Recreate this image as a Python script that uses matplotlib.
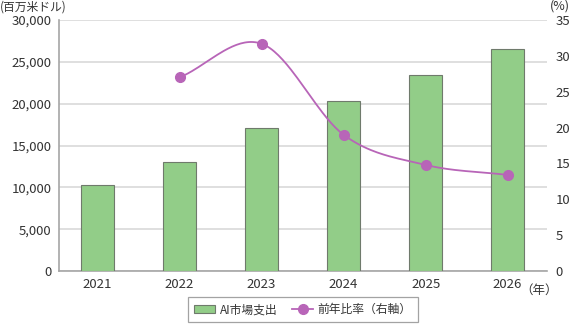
import numpy as np
import matplotlib
matplotlib.use("Agg")
import matplotlib.pyplot as plt
from matplotlib.lines import Line2D
from matplotlib.patches import Patch

plt.rcParams['font.family'] = ['Noto Sans CJK JP', 'DejaVu Sans']

years = ['2021', '2022', '2023', '2024', '2025', '2026']
spending = [10240, 13030, 17100, 20360, 23450, 26600]   # 百万米ドル
growth = [np.nan, 27.0, 31.7, 19.0, 14.8, 13.4]         # %

bar_label = 'AI市場支出'
line_label = '前年比率（右軸）'

bar_color = '#92cd88'
bar_edge = '#6f7a6c'
line_color = '#b865b8'
grid_color = '#d9d9d9'
spine_color = '#a6a6a6'
text_color = '#333333'


def catmull_rom(xs, ys, n=40):
    xs = np.asarray(xs, float)
    ys = np.asarray(ys, float)
    px = np.concatenate([[2 * xs[0] - xs[1]], xs, [2 * xs[-1] - xs[-2]]])
    py = np.concatenate([[2 * ys[0] - ys[1]], ys, [2 * ys[-1] - ys[-2]]])
    out_x, out_y = [], []
    t = np.linspace(0, 1, n)
    for i in range(1, len(px) - 2):
        p0, p1, p2, p3 = (np.array([px[j], py[j]]) for j in (i - 1, i, i + 1, i + 2))
        c1 = p1 + (p2 - p0) / 6
        c2 = p2 - (p3 - p1) / 6
        b = (np.outer((1 - t) ** 3, p1) + np.outer(3 * (1 - t) ** 2 * t, c1)
             + np.outer(3 * (1 - t) * t ** 2, c2) + np.outer(t ** 3, p2))
        out_x.extend(b[:, 0])
        out_y.extend(b[:, 1])
    return np.array(out_x), np.array(out_y)


fig = plt.figure(figsize=(5.72, 3.29), dpi=100)
ax = fig.add_axes([0.1023, 0.1763, 0.854, 0.7627])
x = np.arange(len(years))

ax.bar(x, spending, width=0.40, color=bar_color, edgecolor=bar_edge,
       linewidth=0.8, zorder=3)
ax.set_ylim(0, 30000)
ax.set_yticks(np.arange(0, 30001, 5000))
ax.set_yticklabels([f'{v:,}' for v in range(0, 30001, 5000)])
ax.set_xlim(-0.476, 5.48)
ax.set_xticks(x)
ax.set_xticklabels(years)
ax.grid(axis='y', color=grid_color, linewidth=1.2, zorder=0)
ax.set_axisbelow(True)

for s in ['top', 'right']:
    ax.spines[s].set_visible(False)
for s in ['left', 'bottom']:
    ax.spines[s].set_color(spine_color)
    ax.spines[s].set_linewidth(1.2)
ax.tick_params(length=0, labelsize=9.5, colors=text_color, pad=5)

ax2 = ax.twinx()
ax2.set_ylim(0, 35)
ax2.set_yticks(np.arange(0, 36, 5))
for s in ['top', 'right', 'left', 'bottom']:
    ax2.spines[s].set_visible(False)
ax2.tick_params(length=0, labelsize=9.5, colors=text_color, pad=6)

gx = x[1:]
gy = np.array(growth[1:])
sx, sy = catmull_rom(gx, gy)
ax2.plot(sx, sy, color=line_color, linewidth=1.3, zorder=4)
ax2.plot(gx, gy, 'o', color=line_color, markersize=7, zorder=5)

fig.text(0.0, 0.979, '(百万米ドル)', fontsize=8.5, color=text_color,
         ha='left', va='center')
fig.text(0.997, 0.982, '(%)', fontsize=9, color=text_color,
         ha='right', va='center')
ax.text(5.38, -0.05, '（年）', transform=ax.get_xaxis_transform(),
        fontsize=9, color=text_color, ha='center', va='top')

handles = [Patch(facecolor=bar_color, edgecolor=bar_edge, linewidth=0.8),
           Line2D([0], [0], color=line_color, marker='o', markersize=7, linewidth=1.3)]
leg = fig.legend(handles, [bar_label, line_label], loc='lower center',
                 bbox_to_anchor=(0.5297, 0.003), ncol=2, frameon=True,
                 fancybox=False, fontsize=8.5, handlelength=1.75,
                 handletextpad=0.4, columnspacing=1.3, borderpad=0.5)
leg.get_frame().set_edgecolor('#8c8c8c')
leg.get_frame().set_linewidth(0.9)
for t in leg.get_texts():
    t.set_color(text_color)

fig.savefig('out.png', dpi=100)
